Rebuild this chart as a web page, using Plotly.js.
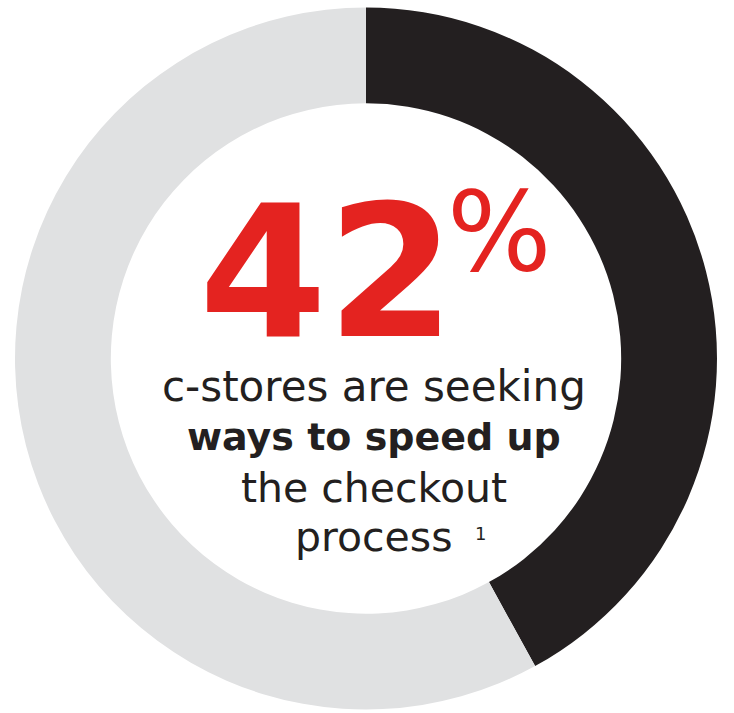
<!DOCTYPE html>
<html>
<head>
<meta charset="utf-8">
<script src="https://cdn.plot.ly/plotly-3.0.1.min.js"></script>
<style>html,body{margin:0;padding:0;background:#fff;}#chart{width:734px;height:713px;}</style>
</head>
<body>
<div id="chart"></div>
<script>
// Data
const labels = ["Seeking ways to speed up checkout", "Other"];
const values = [42, 58];
const sliceColors = ["#231f20", "#e0e1e2"];
const headline = "42";
const headlineSuffix = "%";
const lines = ["c-stores are seeking", "<b>ways to speed up</b>", "the checkout", "process"];
const footnote = "1";

const W = 734, H = 713;
const px = v => v / W;
const py = v => 1 - v / H;

const trace = {
  type: "pie",
  labels: labels,
  values: values,
  sort: false,
  direction: "clockwise",
  rotation: 0,
  hole: 0.727,
  marker: {colors: sliceColors, line: {width: 0}},
  textinfo: "none",
  hoverinfo: "none",
  showlegend: false,
  domain: {x: [px(15), px(717)], y: [(3.5)/H, (705.5)/H]}
};

const textColor = "#231f20";
const red = "#e42320";
const ann = (text, x, y, size, color, family, h) => {
  const a = {
    text: text, x: px(x), y: py(y), xref: "paper", yref: "paper",
    xanchor: "center", yanchor: "middle", showarrow: false,
    font: {size: size, color: color, family: family}
  };
  if (h) { a.height = h; a.valign = "middle"; }
  return a;
};

const layout = {
  width: W, height: H,
  margin: {l: 0, r: 0, t: 0, b: 0},
  paper_bgcolor: "#ffffff",
  plot_bgcolor: "#ffffff",
  annotations: [
    ann("<b>" + headline + "</b>", 327, 272, 184, red, "DejaVu Sans", 150),
    ann(headlineSuffix, 499, 232, 110, red, "DejaVu Sans", 92),
    ann(lines[0], 374, 387, 42, textColor, "DejaVu Sans"),
    ann(lines[1], 374, 437, 38, textColor, "DejaVu Sans"),
    ann(lines[2], 374, 488, 41, textColor, "DejaVu Sans"),
    ann(lines[3], 374, 537, 41, textColor, "DejaVu Sans"),
    ann(footnote, 480, 533, 18, textColor, "DejaVu Sans")
  ]
};

Plotly.newPlot("chart", [trace], layout, {staticPlot: true, displayModeBar: false});
</script>
</body>
</html>
